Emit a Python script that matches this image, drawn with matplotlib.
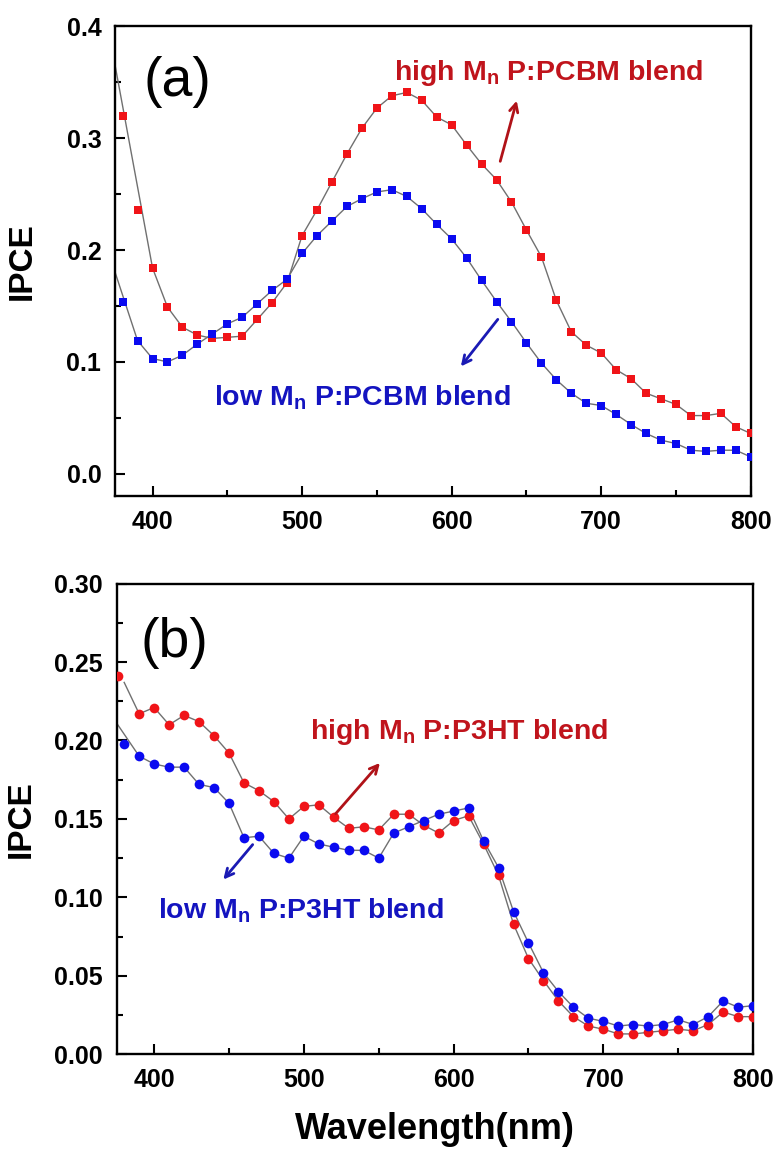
import matplotlib
matplotlib.use("Agg")
import matplotlib.pyplot as plt
from matplotlib.ticker import MultipleLocator, FormatStrFormatter

plt.rcParams['font.family'] = ['Liberation Sans', 'DejaVu Sans']
plt.rcParams['mathtext.fontset'] = 'custom'
plt.rcParams['mathtext.rm'] = 'Liberation Sans'
plt.rcParams['mathtext.bf'] = 'Liberation Sans:bold'

# ---- panel (a): PCBM blends ----
wl_a = list(range(380, 810, 10))
high_pcbm = [0.320, 0.236, 0.184, 0.149, 0.131, 0.124, 0.121, 0.122, 0.123, 0.138,
             0.153, 0.171, 0.213, 0.236, 0.261, 0.286, 0.309, 0.327, 0.338, 0.341,
             0.334, 0.319, 0.312, 0.294, 0.277, 0.263, 0.243, 0.218, 0.194, 0.155,
             0.127, 0.115, 0.108, 0.093, 0.085, 0.072, 0.067, 0.062, 0.052, 0.052,
             0.054, 0.042, 0.036]
low_pcbm = [0.154, 0.119, 0.103, 0.100, 0.106, 0.116, 0.125, 0.134, 0.140, 0.152,
            0.164, 0.174, 0.197, 0.213, 0.226, 0.239, 0.246, 0.252, 0.254, 0.248,
            0.237, 0.223, 0.210, 0.193, 0.173, 0.154, 0.136, 0.117, 0.099, 0.084,
            0.072, 0.063, 0.061, 0.053, 0.044, 0.036, 0.030, 0.027, 0.021, 0.020,
            0.021, 0.021, 0.015]
# guide lines start a little left of the first markers
high_pcbm_line_start = (375, 0.365)
low_pcbm_line_start = (375, 0.180)

# ---- panel (b): P3HT blends ----
wl_b_high = [376] + list(range(390, 810, 10))
high_p3ht = [0.241, 0.217, 0.221, 0.210, 0.216, 0.212, 0.203, 0.192, 0.173, 0.168,
             0.161, 0.150, 0.158, 0.159, 0.151, 0.144, 0.145, 0.143, 0.153, 0.153,
             0.146, 0.141, 0.149, 0.152, 0.134, 0.114, 0.083, 0.061, 0.047, 0.034,
             0.024, 0.018, 0.016, 0.013, 0.013, 0.014, 0.015, 0.016, 0.015, 0.019,
             0.027, 0.024, 0.024]
wl_b_low = list(range(380, 810, 10))
low_p3ht = [0.198, 0.190, 0.185, 0.183, 0.183, 0.172, 0.170, 0.160, 0.138, 0.139,
            0.128, 0.125, 0.139, 0.134, 0.132, 0.130, 0.130, 0.125, 0.141, 0.145,
            0.149, 0.153, 0.155, 0.157, 0.136, 0.119, 0.091, 0.071, 0.052, 0.040,
            0.030, 0.023, 0.021, 0.018, 0.019, 0.018, 0.019, 0.022, 0.019, 0.024,
            0.034, 0.030, 0.031]
high_p3ht_line_start = (380, 0.237)
low_p3ht_line_start = (375, 0.211)

RED = '#f01418'
BLUE = '#0a0af0'
TXT_RED = '#c0141c'
TXT_BLUE = '#1414c0'
LINE = '#707070'
ARROW = dict(arrowstyle='->,head_length=0.6,head_width=0.3', lw=2)

fig = plt.figure(figsize=(7.78, 11.51), dpi=100)
ax1 = fig.add_axes([0.148, 0.569, 0.817, 0.408])
ax2 = fig.add_axes([0.150, 0.084, 0.818, 0.409])


def style_axes(ax, ymajor, fmt, label_x):
    ax.set_xlim(375, 800)
    ax.xaxis.set_major_locator(MultipleLocator(100))
    ax.xaxis.set_minor_locator(MultipleLocator(50))
    ax.yaxis.set_major_locator(MultipleLocator(ymajor))
    ax.yaxis.set_minor_locator(MultipleLocator(ymajor / 2))
    ax.yaxis.set_major_formatter(FormatStrFormatter(fmt))
    ax.tick_params(which='both', direction='in', top=False, right=False, width=1.5)
    ax.tick_params(which='major', length=7, labelsize=18, pad=10)
    ax.tick_params(which='minor', length=4)
    for lab in ax.get_xticklabels() + ax.get_yticklabels():
        lab.set_fontweight('bold')
    for sp in ax.spines.values():
        sp.set_linewidth(1.7)
    ax.set_ylabel('IPCE', fontsize=24, fontweight='bold')
    ax.yaxis.set_label_coords(label_x, 0.5)


def markers(ax, x, y, color, marker, ms):
    ax.plot(x, y, linestyle='none', marker=marker, ms=ms, color=color,
            markeredgewidth=0, zorder=3)


def guide(ax, start, x, y):
    lx = [start[0]] + [xx for xx in x if xx > start[0] + 5]
    ly = [start[1]] + [yy for xx, yy in zip(x, y) if xx > start[0] + 5]
    ax.plot(lx, ly, color=LINE, lw=1.0, zorder=2)


# panel (a)
guide(ax1, high_pcbm_line_start, wl_a[2:], high_pcbm[2:])
guide(ax1, low_pcbm_line_start, wl_a[1:], low_pcbm[1:])
markers(ax1, wl_a, high_pcbm, RED, 's', 5.5)
markers(ax1, wl_a, low_pcbm, BLUE, 's', 5.5)
ax1.set_ylim(-0.02, 0.40)
style_axes(ax1, 0.1, '%.1f', -0.122)

ax1.text(0.044, 0.881, '(a)', transform=ax1.transAxes, fontsize=40,
         ha='left', va='center')
ax1.text(665, 0.358, r'high M$_{\mathbf{n}}$ P:PCBM blend', color=TXT_RED,
         fontsize=20.5, fontweight='bold', ha='center', va='center')
ax1.annotate('', xy=(644, 0.336), xytext=(632, 0.277),
             arrowprops=dict(ARROW, color='#b01218'))
ax1.text(540, 0.068, r'low M$_{\mathbf{n}}$ P:PCBM blend', color=TXT_BLUE,
         fontsize=20.5, fontweight='bold', ha='center', va='center')
ax1.annotate('', xy=(605, 0.094), xytext=(632, 0.140),
             arrowprops=dict(ARROW, color='#1a1ab4'))

# panel (b)
guide(ax2, high_p3ht_line_start, wl_b_high, high_p3ht)
guide(ax2, low_p3ht_line_start, wl_b_low, low_p3ht)
markers(ax2, wl_b_high, high_p3ht, RED, 'o', 7)
markers(ax2, wl_b_low, low_p3ht, BLUE, 'o', 7)
ax2.set_ylim(0, 0.30)
style_axes(ax2, 0.05, '%.2f', -0.126)

ax2.text(0.038, 0.873, '(b)', transform=ax2.transAxes, fontsize=40,
         ha='left', va='center')
ax2.text(604, 0.2055, r'high M$_{\mathbf{n}}$ P:P3HT blend', color=TXT_RED,
         fontsize=20.5, fontweight='bold', ha='center', va='center')
ax2.annotate('', xy=(552, 0.187), xytext=(520, 0.152),
             arrowprops=dict(ARROW, color='#b01218'))
ax2.text(498, 0.0916, r'low M$_{\mathbf{n}}$ P:P3HT blend', color=TXT_BLUE,
         fontsize=20.5, fontweight='bold', ha='center', va='center')
ax2.annotate('', xy=(445, 0.110), xytext=(467, 0.135),
             arrowprops=dict(ARROW, color='#1a1ab4'))
ax2.set_xlabel('Wavelength(nm)', fontsize=26, fontweight='bold', labelpad=14)

fig.savefig('out.png', dpi=100)
